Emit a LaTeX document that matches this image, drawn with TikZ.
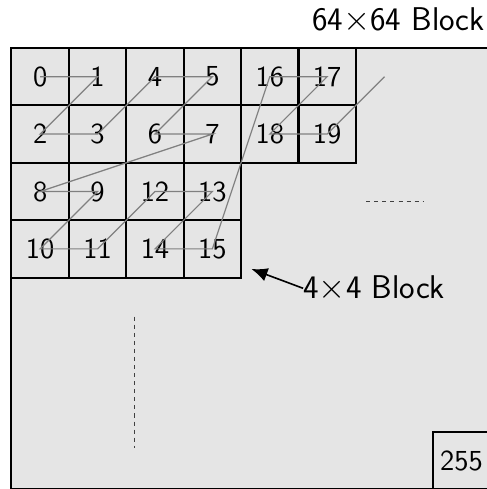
\documentclass[tikz,border=0pt]{standalone}
\usepackage{tikz}
\usetikzlibrary{arrows.meta}

\begin{document}
\begin{tikzpicture}[
    x=1cm,
    y=1cm,
    cell/.style={
        draw,
        line width=1pt,
        fill=gray!20,
        minimum size=1cm,
        inner sep=0pt,
        font=\Large\sffamily
    },
    caption/.style={
        inner sep=0pt,
        font=\fontsize{16.3}{19}\selectfont\sffamily
    },
    scan/.style={
        gray,
        semithick
    },
    ellipsis/.style={
        black!75,
        thin,
        dash pattern=on 2pt off 2pt
    },
    pointer/.style={
        thick,
        -{Latex[length=2.8mm,width=2.4mm]}
    }
]

\useasboundingbox (-0.2,0.836) rectangle (8.267,-7.683);


\draw[line width=1pt, fill=gray!20] (0,0) rectangle (8.34,-7.69);


\node[caption, anchor=base east] (big) at (8.25,0.31) {64$\times$64 Block};


\node[cell] (n0) at (0.5,-0.5) {0};
\node[cell] (n1) at (1.5,-0.5) {1};
\node[cell] (n2) at (0.5,-1.5) {2};
\node[cell] (n3) at (1.5,-1.5) {3};

\node[cell] (n4) at (2.5,-0.5) {4};
\node[cell] (n5) at (3.5,-0.5) {5};
\node[cell] (n6) at (2.5,-1.5) {6};
\node[cell] (n7) at (3.5,-1.5) {7};

\node[cell] (n8) at (0.5,-2.5) {8};
\node[cell] (n9) at (1.5,-2.5) {9};
\node[cell] (n10) at (0.5,-3.5) {10};
\node[cell] (n11) at (1.5,-3.5) {11};

\node[cell] (n12) at (2.5,-2.5) {12};
\node[cell] (n13) at (3.5,-2.5) {13};
\node[cell] (n14) at (2.5,-3.5) {14};
\node[cell] (n15) at (3.5,-3.5) {15};

\node[cell] (n16) at (4.5,-0.5) {16};
\node[cell] (n17) at (5.5,-0.5) {17};
\node[cell] (n18) at (4.5,-1.5) {18};
\node[cell] (n19) at (5.5,-1.5) {19};

\coordinate (n20) at (6.5,-0.5);


\node[cell] (n255) at (7.84,-7.19) {255};


% z-order scan
\draw[scan]
    (n0.center) -- (n1.center) -- (n2.center) -- (n3.center)
    -- (n4.center) -- (n5.center) -- (n6.center) -- (n7.center)
    -- (n8.center) -- (n9.center) -- (n10.center) -- (n11.center)
    -- (n12.center) -- (n13.center) -- (n14.center) -- (n15.center)
    -- (n16.center) -- (n17.center) -- (n18.center) -- (n19.center)
    -- (n20);


\draw[ellipsis] (6.18,-2.68) -- (7.17,-2.68);
\draw[ellipsis] (2.15,-4.68) -- (2.15,-6.97);


\coordinate (corner) at (4.18,-3.85);
\node[caption, anchor=base west] (lbl) at (5.08,-4.36) {4$\times$4 Block};
\draw[pointer] (lbl.west) -- (corner);

\end{tikzpicture}
\end{document}
